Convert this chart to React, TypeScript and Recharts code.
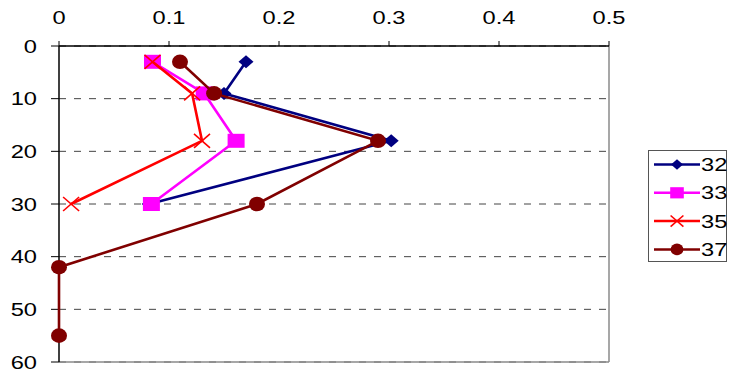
import React from "react";
import { ScatterChart, Scatter, XAxis, YAxis, CartesianGrid, ReferenceLine } from "recharts";

const xTicks = [0, 0.1, 0.2, 0.3, 0.4, 0.5];
const yTicks = [0, 10, 20, 30, 40, 50, 60];

const s32 = [
  { x: 0.17, y: 3 },
  { x: 0.15, y: 9 },
  { x: 0.302, y: 18 },
  { x: 0.082, y: 30 },
];
const s33 = [
  { x: 0.085, y: 3 },
  { x: 0.132, y: 9 },
  { x: 0.161, y: 18 },
  { x: 0.084, y: 30 },
];
const s35 = [
  { x: 0.085, y: 3 },
  { x: 0.121, y: 9 },
  { x: 0.13, y: 18 },
  { x: 0.011, y: 30 },
];
const s37 = [
  { x: 0.11, y: 3 },
  { x: 0.141, y: 9 },
  { x: 0.29, y: 18 },
  { x: 0.18, y: 30 },
  { x: 0, y: 42 },
  { x: 0, y: 55 },
];

const seriesNames = ["32", "33", "35", "37"];
const seriesColors = ["#000080", "#FF00FF", "#FF0000", "#800000"];
const seriesMarkers = ["diamond", "square", "x", "circle"];
const seriesData = [s32, s33, s35, s37];

const FONT = "'Liberation Sans', Arial, sans-serif";
const FS = 18.5;
const SX = 1.28;

function Marker({ kind, cx, cy, color, scale = 1 }: any) {
  if (cx == null || cy == null) return null;
  if (kind === "diamond") {
    const w = 7.5 * scale, h = 6.5 * scale;
    return <polygon points={`${cx},${cy - h} ${cx + w},${cy} ${cx},${cy + h} ${cx - w},${cy}`} fill={color} />;
  }
  if (kind === "square") {
    const w = 8.5 * scale, h = 7 * scale;
    return <rect x={cx - w} y={cy - h} width={2 * w} height={2 * h} fill={color} />;
  }
  if (kind === "x") {
    const w = 8 * scale, h = 7 * scale;
    return (
      <g stroke={color} strokeWidth={1.6}>
        <line x1={cx - w} y1={cy - h} x2={cx + w} y2={cy + h} />
        <line x1={cx - w} y1={cy + h} x2={cx + w} y2={cy - h} />
      </g>
    );
  }
  return <ellipse cx={cx} cy={cy} rx={8 * scale} ry={7.3 * scale} fill={color} />;
}

function XTick(props: any) {
  const { x, y, payload } = props;
  return (
    <text
      transform={`translate(${x},${y - 15}) scale(${SX},1)`}
      textAnchor="middle"
      fontFamily={FONT}
      fontSize={FS}
      fill="#000"
    >
      {String(payload.value)}
    </text>
  );
}

function YTick(props: any) {
  const { x, y, payload } = props;
  return (
    <text
      transform={`translate(${x - 12},${y + 6.8}) scale(${SX},1)`}
      textAnchor="end"
      fontFamily={FONT}
      fontSize={FS}
      fill="#000"
    >
      {String(payload.value)}
    </text>
  );
}

function LegendBox() {
  return (
    <div
      style={{
        position: "absolute",
        left: 648,
        top: 150,
        width: 79,
        height: 112,
        border: "1px solid #555",
        boxSizing: "border-box",
        background: "#fff",
        overflow: "visible",
      }}
    >
      <svg width={77} height={110} style={{ position: "absolute", left: 0, top: 0, overflow: "visible" }}>
        {seriesNames.map((name, i) => {
          const cy = 13.5 + i * 28.3;
          return (
            <g key={name}>
              <line x1={5} x2={51} y1={cy} y2={cy} stroke={seriesColors[i]} strokeWidth={2.5} />
              <Marker kind={seriesMarkers[i]} cx={28} cy={cy} color={seriesColors[i]} scale={0.8} />
              <text
                transform={`translate(52,${cy + 6.6}) scale(${SX},1)`}
                fontFamily={FONT}
                fontSize={FS}
                fill="#000"
              >
                {name}
              </text>
            </g>
          );
        })}
      </svg>
    </div>
  );
}

export default function App() {
  return (
    <div style={{ position: "absolute", left: 0, top: 0, width: 731, height: 374, background: "#fff" }}>
      <ScatterChart width={731} height={374} margin={{ top: 16, right: 122, bottom: 12, left: 0 }}>
        <CartesianGrid vertical={false} stroke="#444" strokeDasharray="7 8" strokeWidth={1} />
        <ReferenceLine x={0.5} stroke="#8a8a8a" strokeWidth={1.5} />
        <ReferenceLine y={60} stroke="#8a8a8a" strokeWidth={1.5} />
        <XAxis
          type="number"
          dataKey="x"
          orientation="top"
          domain={[0, 0.5]}
          ticks={xTicks}
          height={30}
          tickSize={5}
          axisLine={{ stroke: "#000", strokeWidth: 1.5 }}
          tickLine={{ stroke: "#000", strokeWidth: 1 }}
          tick={<XTick />}
          interval={0}
        />
        <YAxis
          type="number"
          dataKey="y"
          reversed
          domain={[0, 60]}
          ticks={yTicks}
          width={59}
          tickSize={8}
          axisLine={{ stroke: "#000", strokeWidth: 1.5 }}
          tickLine={{ stroke: "#000", strokeWidth: 1 }}
          tick={<YTick />}
          interval={0}
        />
        {seriesData.map((d, i) => (
          <Scatter
            key={seriesNames[i]}
            name={seriesNames[i]}
            data={d}
            fill={seriesColors[i]}
            line={{ stroke: seriesColors[i], strokeWidth: 2.6 }}
            isAnimationActive={false}
            shape={(p: any) => <Marker kind={seriesMarkers[i]} cx={p.cx} cy={p.cy} color={seriesColors[i]} />}
          />
        ))}
      </ScatterChart>
      <LegendBox />
    </div>
  );
}
